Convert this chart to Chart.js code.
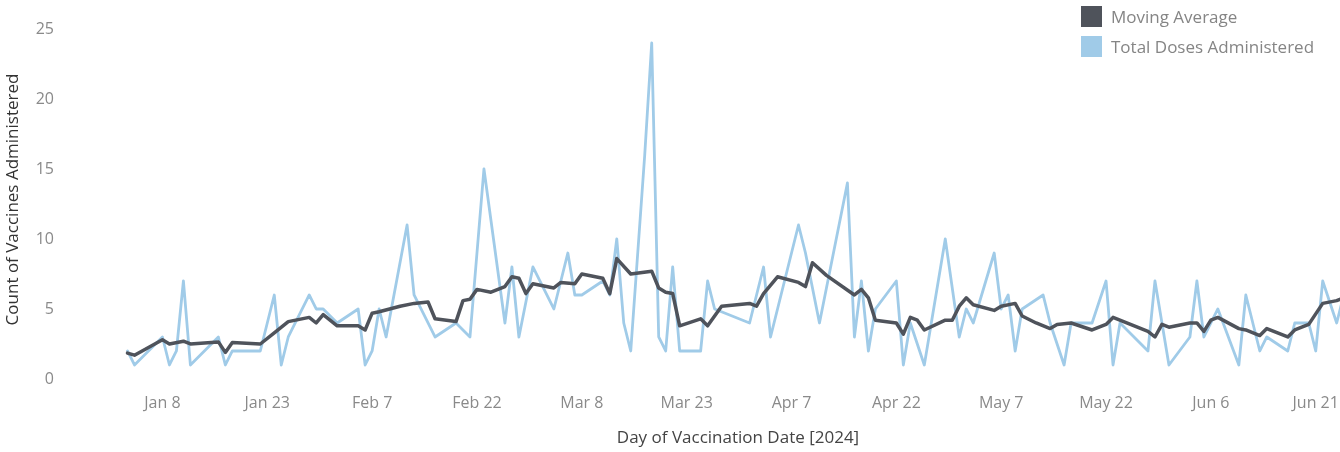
<!DOCTYPE html>
<html>
<head>
<meta charset="utf-8">
<script src="https://cdn.jsdelivr.net/npm/chart.js@4.4.1/dist/chart.umd.min.js"></script>
<style>
    html, body { margin: 0; padding: 0; overflow: hidden; background: #fff; }
    #wrap { position: relative; width: 1414px; height: 452px; }
    #legend { position: absolute; left: 1081px; top: 1px; font-family: 'Open Sans', sans-serif; font-size: 17px; color: #858585; }
    .legend-item { display: flex; align-items: center; height: 30px; }
    .legend-box { width: 21px; height: 21px; margin-right: 9px; }
</style>
</head>
<body>
<div id="wrap">
    <canvas id="doseChart" width="1414" height="452"></canvas>
    <div id="legend"></div>
</div>
<script>
// x ticks: day of year 2024
const tickDays = [8, 23, 38, 53, 68, 83, 98, 113, 128, 143, 158, 173];
const tickLabels = ['Jan 8', 'Jan 23', 'Feb 7', 'Feb 22', 'Mar 8', 'Mar 23', 'Apr 7', 'Apr 22', 'May 7', 'May 22', 'Jun 6', 'Jun 21'];
const yTicks = [0, 5, 10, 15, 20, 25];

// Total doses administered per day (day of year)
const doseDays = [3, 4, 8, 9, 10, 11, 12, 16, 17, 18, 22, 24, 25, 26, 29, 30, 31, 33, 36, 37,
    38, 39, 40, 43, 44, 47, 50, 52, 54, 57, 58, 59, 61, 64, 66, 67, 68, 71, 72, 73,
    74, 75, 77, 78, 79, 80, 81, 82, 85, 86, 87, 92, 94, 95, 99, 100, 102, 106, 107, 108,
    109, 110, 113, 114, 115, 117, 120, 122, 123, 124, 127, 128, 129, 130, 131, 134, 135, 137, 138, 141,
    143, 144, 145, 149, 150, 152, 155, 156, 157, 159, 162, 163, 165, 166, 169, 170, 172, 173, 174, 176, 177];
const doseValues = [2, 1, 3, 1, 2, 7, 1, 3, 1, 2, 2, 6, 1, 3, 6, 5, 5, 4, 5, 1,
    2, 5, 3, 11, 6, 3, 4, 3, 15, 4, 8, 3, 8, 5, 9, 6, 6, 7, 6, 10,
    4, 2, 16, 24, 3, 2, 8, 2, 2, 7, 5, 4, 8, 3, 11, 9, 4, 14, 3, 7,
    2, 5, 7, 1, 4, 1, 10, 3, 5, 4, 9, 5, 6, 2, 5, 6, 4, 1, 4, 4,
    7, 1, 4, 2, 7, 1, 3, 7, 3, 5, 1, 6, 2, 3, 2, 4, 4, 2, 7, 4, 6];

// Moving average
const avgDays = [3, 4, 8, 9, 11, 12, 16, 17, 18, 22, 24, 26, 29, 30, 31, 33, 36, 37, 38, 39,
    42, 44, 46, 47, 50, 51, 52, 53, 55, 57, 58, 59, 60, 61, 64, 65, 67, 68, 71, 72,
    73, 75, 78, 79, 80, 81, 82, 85, 86, 88, 92, 93, 94, 96, 99, 100, 101, 103, 107, 108,
    109, 110, 113, 114, 115, 116, 117, 120, 121, 122, 123, 124, 127, 128, 130, 131, 133, 135, 136, 138,
    141, 143, 144, 149, 150, 151, 152, 155, 156, 157, 158, 159, 162, 163, 165, 166, 169, 170, 172, 174, 176, 177];
const avgValues = [1.85, 1.7, 2.8, 2.5, 2.7, 2.5, 2.65, 1.9, 2.6, 2.5, 3.3, 4.1, 4.4, 4.0, 4.6, 3.8, 3.8, 3.5, 4.7, 4.8,
    5.2, 5.4, 5.5, 4.3, 4.1, 5.6, 5.7, 6.4, 6.2, 6.6, 7.3, 7.2, 6.1, 6.8, 6.5, 6.9, 6.8, 7.5, 7.2, 6.1,
    8.6, 7.5, 7.7, 6.5, 6.2, 6.1, 3.8, 4.3, 3.8, 5.2, 5.4, 5.2, 6.1, 7.3, 6.9, 6.6, 8.3, 7.4, 6.0, 6.4,
    5.8, 4.2, 4.0, 3.2, 4.4, 4.2, 3.5, 4.2, 4.2, 5.2, 5.8, 5.3, 4.9, 5.2, 5.4, 4.5, 4.0, 3.6, 3.9, 4.0,
    3.5, 3.9, 4.4, 3.4, 3.0, 3.9, 3.7, 4.0, 4.0, 3.4, 4.2, 4.4, 3.6, 3.5, 3.1, 3.6, 3.0, 3.5, 3.9, 5.4, 5.6, 5.8];

const fontFamily = "'Open Sans', sans-serif";
const darkColor = '#4f535b';
const lightColor = '#a0cbe8';

const toPoints = (days, values) => days.map((d, i) => ({ x: d, y: values[i] }));

const ctx = document.getElementById('doseChart').getContext('2d');
const chart = new Chart(ctx, {
    type: 'line',
    data: {
        datasets: [{
            label: 'Moving Average',
            data: toPoints(avgDays, avgValues),
            borderColor: darkColor,
            backgroundColor: darkColor,
            borderWidth: 3.5
        }, {
            label: 'Total Doses Administered',
            data: toPoints(doseDays, doseValues),
            borderColor: lightColor,
            backgroundColor: lightColor,
            borderWidth: 2.8
        }]
    },
    options: {
        responsive: false,
        animation: false,
        layout: { padding: { top: 20, left: 0, right: 0, bottom: 0 } },
        elements: {
            point: { radius: 0 },
            line: { tension: 0, borderJoinStyle: 'round', borderCapStyle: 'round' }
        },
        plugins: {
            legend: { display: false },
            tooltip: { enabled: false }
        },
        scales: {
            x: {
                type: 'linear',
                min: -6.37,
                max: 187.06,
                afterFit: (scale) => { scale.height = 73; },
                afterBuildTicks: (scale) => { scale.ticks = tickDays.map(v => ({ value: v })); },
                grid: { display: false, drawTicks: false },
                border: { display: false },
                ticks: {
                    autoSkip: false,
                    maxRotation: 0,
                    padding: 15,
                    color: '#8a8a8a',
                    font: { family: fontFamily, size: 16 },
                    callback: (value) => tickLabels[tickDays.indexOf(value)]
                },
                title: {
                    display: true,
                    text: 'Day of Vaccination Date [2024]',
                    color: '#444',
                    font: { family: fontFamily, size: 17 },
                    padding: { top: 0, bottom: 4 }
                }
            },
            y: {
                min: 0,
                max: 25.64,
                afterFit: (scale) => { scale.width = 62; },
                afterBuildTicks: (scale) => { scale.ticks = yTicks.map(v => ({ value: v })); },
                grid: { display: false, drawTicks: false },
                border: { display: false },
                ticks: {
                    padding: 8,
                    color: '#8a8a8a',
                    font: { family: fontFamily, size: 16 }
                },
                title: {
                    display: true,
                    text: 'Count of Vaccines Administered',
                    color: '#333',
                    font: { family: fontFamily, size: 17 },
                    padding: { top: 3, bottom: 0 }
                }
            }
        }
    }
});

// HTML legend built from the chart's own legend items
const legendEl = document.getElementById('legend');
chart.options.plugins.legend.labels.generateLabels(chart).forEach(item => {
    const row = document.createElement('div');
    row.className = 'legend-item';
    const box = document.createElement('span');
    box.className = 'legend-box';
    box.style.background = item.fillStyle;
    const text = document.createElement('span');
    text.textContent = item.text;
    row.appendChild(box);
    row.appendChild(text);
    legendEl.appendChild(row);
});
</script>
</body>
</html>
